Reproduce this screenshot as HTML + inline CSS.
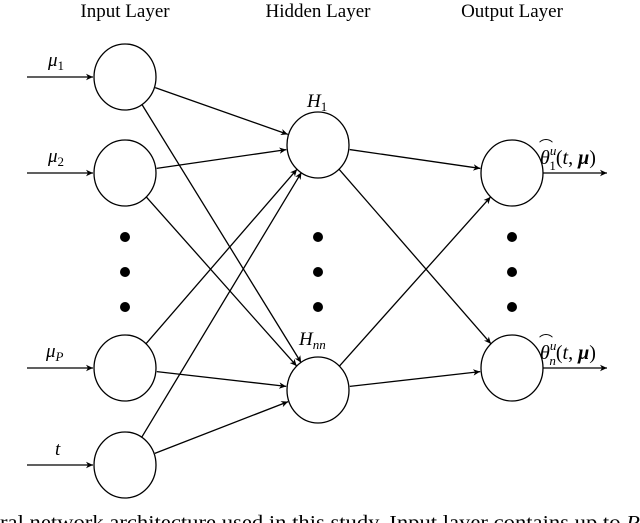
<!DOCTYPE html>
<html><head><meta charset="utf-8"><style>
html,body{margin:0;padding:0;background:#fff;width:640px;height:523px;overflow:hidden}
svg text{font-family:"Liberation Serif",serif;fill:#000}
</style></head><body>
<svg id="s" width="640" height="523" viewBox="0 0 640 523" xmlns="http://www.w3.org/2000/svg">
<defs><marker id="a" markerWidth="8" markerHeight="8" refX="7" refY="4" orient="auto" markerUnits="userSpaceOnUse"><path d="M0,0.8 L7,4 L0,7.2 L2,4 Z" fill="#000"/></marker></defs>
<text x="125" y="17" font-size="19" text-anchor="middle">Input Layer</text>
<text x="318" y="17" font-size="19" text-anchor="middle">Hidden Layer</text>
<text x="512" y="17" font-size="19" text-anchor="middle">Output Layer</text>
<g id="g" stroke="#000" stroke-width="1.3" fill="none"></g>
<g fill="#000">
<circle cx="125" cy="237" r="5"/><circle cx="125" cy="272" r="5"/><circle cx="125" cy="307" r="5"/>
<circle cx="318" cy="237" r="5"/><circle cx="318" cy="272" r="5"/><circle cx="318" cy="307" r="5"/>
<circle cx="512" cy="237" r="5"/><circle cx="512" cy="272" r="5"/><circle cx="512" cy="307" r="5"/>
</g>
<g font-style="italic" font-size="19">
<text x="48" y="66">μ<tspan font-size="13" font-style="normal" dy="4">1</tspan></text>
<text x="48" y="162">μ<tspan font-size="13" font-style="normal" dy="4">2</tspan></text>
<text x="46" y="357">μ<tspan font-size="13" dy="4">P</tspan></text>
<text x="55" y="455">t</text>
<text x="307" y="107">H<tspan font-size="13" font-style="normal" dy="4">1</tspan></text>
<text x="299" y="345">H<tspan font-size="13" dy="4">nn</tspan></text>
<text x="540" y="164" font-size="20">θ<tspan font-size="13" dy="-9">u</tspan><tspan font-size="13" font-style="normal" dx="-7" dy="15">1</tspan><tspan font-style="normal" dy="-6">(</tspan>t<tspan font-style="normal">, </tspan><tspan font-weight="bold">μ</tspan><tspan font-style="normal">)</tspan></text>
<text x="540" y="359" font-size="20">θ<tspan font-size="13" dy="-9">u</tspan><tspan font-size="13" dx="-7" dy="15">n</tspan><tspan font-style="normal" dy="-6">(</tspan>t<tspan font-style="normal">, </tspan><tspan font-weight="bold">μ</tspan><tspan font-style="normal">)</tspan></text>
<text x="539" y="151" font-style="normal" font-size="14">⌒</text>
<text x="539" y="346" font-style="normal" font-size="14">⌒</text>
</g>
<text x="0" y="529" font-size="20" textLength="640" lengthAdjust="spacingAndGlyphs">ral network architecture used in this study. Input layer contains up to <tspan font-style="italic">P</tspan></text>
</svg>
<script>
var g=document.getElementById('g'),NS='http://www.w3.org/2000/svg',R=32;
var I=[[125,77],[125,173],[125,368],[125,465]],H=[[318,145],[318,390]],O=[[512,173],[512,368]];
function el(t,a){var e=document.createElementNS(NS,t);for(var k in a)e.setAttribute(k,a[k]);g.appendChild(e);}
[I,H,O].forEach(function(L){L.forEach(function(p){el('ellipse',{cx:p[0],cy:p[1],rx:31,ry:33});});});
function ln(a,b){var dx=b[0]-a[0],dy=b[1]-a[1],d=Math.hypot(dx,dy),ux=dx/d,uy=dy/d;
el('line',{x1:a[0]+ux*R,y1:a[1]+uy*R,x2:b[0]-ux*R,y2:b[1]-uy*R,'marker-end':'url(#a)'});}
I.forEach(function(i){H.forEach(function(h){ln(i,h);});});
H.forEach(function(h){O.forEach(function(o){ln(h,o);});});
I.forEach(function(i){el('line',{x1:27,y1:i[1],x2:93,y2:i[1],'marker-end':'url(#a)'});});
O.forEach(function(o){el('line',{x1:543,y1:o[1],x2:607,y2:o[1],'marker-end':'url(#a)'});});
</script>
</body></html>
